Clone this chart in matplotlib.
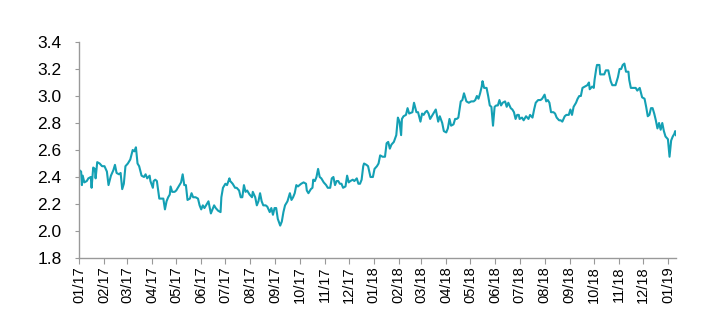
import datetime as dt
import matplotlib
matplotlib.use("Agg")
import matplotlib.pyplot as plt
import matplotlib.dates as mdates

# days after 2017-01-01 and the yield
days = [
    0, 2, 3, 4, 6, 9, 11, 14, 15, 17, 19, 20, 22, 25, 28, 31, 34, 36, 39, 42,
    44, 46, 49, 51, 53, 55, 57, 60, 63, 66, 68, 70, 72, 74, 77, 80, 82, 84, 87, 88,
    91, 92, 94, 96, 99, 101, 104, 106, 108, 110, 112, 113, 115, 118, 120, 123, 126, 128, 130, 132,
    134, 137, 139, 141, 144, 147, 149, 151, 153, 155, 158, 160, 163, 165, 167, 169, 172, 175, 176, 178,
    181, 183, 186, 187, 190, 193, 195, 198, 200, 202, 204, 206, 208, 211, 214, 215, 218, 220, 222, 224,
    226, 228, 231, 233, 236, 238, 240, 242, 244, 246, 249, 251, 253, 255, 258, 261, 263, 265, 267, 269,
    271, 273, 275, 278, 281, 282, 284, 287, 289, 290, 292, 294, 296, 298, 300, 303, 306, 308, 311, 313,
    315, 317, 319, 321, 323, 325, 327, 330, 332, 334, 336, 339, 341, 344, 346, 348, 350, 352,
    353, 356, 358, 361, 364, 366, 369, 371, 373, 376, 379, 381, 383, 385, 387, 390, 393, 395, 397, 399,
    400, 402, 405, 407, 409, 413, 415, 418, 420, 423, 425, 427, 429, 431, 433, 435, 437, 439, 442, 443,
    445, 447, 450, 452, 455, 457, 459, 461, 464, 466, 468, 470, 473, 475, 477, 480, 483, 486, 489, 491,
    493, 495, 497, 499, 500, 502, 505, 507, 509, 511, 513, 515, 517, 519, 521, 523, 525, 528, 530, 532,
    535, 537, 539, 541, 543, 545, 546, 549, 551, 554, 557, 559, 562, 564, 566, 569, 572, 574, 577, 579,
    581, 583, 585, 588, 590, 592, 595, 597, 599, 602, 604, 607, 609, 611, 613, 616, 618, 620, 622, 624,
    627, 630, 632, 633, 636, 638, 639, 641, 642, 645, 646, 648, 651, 653, 656, 659, 661, 663, 665, 668,
    670, 672, 674, 676, 678, 681, 682, 684, 687, 690, 692, 695, 698, 701, 703, 705, 707, 709, 711, 713,
    715, 717, 719, 721, 723, 725, 727, 730, 732, 734, 736, 738, 739, 740,
]
yields = [
    2.45, 2.44, 2.34, 2.41, 2.36, 2.37, 2.39, 2.40, 2.32, 2.47, 2.46, 2.39, 2.51, 2.50, 2.48, 2.48, 2.44, 2.34, 2.41, 2.45,
    2.49, 2.43, 2.42, 2.43, 2.31, 2.35, 2.48, 2.50, 2.53, 2.60, 2.59, 2.62, 2.50, 2.48, 2.41, 2.40, 2.42, 2.39, 2.41, 2.37,
    2.32, 2.37, 2.38, 2.37, 2.24, 2.24, 2.24, 2.16, 2.22, 2.25, 2.27, 2.33, 2.29, 2.29, 2.30, 2.33, 2.36, 2.42, 2.34, 2.34,
    2.23, 2.24, 2.28, 2.25, 2.25, 2.24, 2.19, 2.16, 2.19, 2.17, 2.20, 2.22, 2.13, 2.16, 2.19, 2.17, 2.15, 2.14, 2.25, 2.32,
    2.35, 2.34, 2.39, 2.37, 2.35, 2.32, 2.32, 2.30, 2.25, 2.25, 2.34, 2.29, 2.30, 2.27, 2.25, 2.29, 2.25, 2.19, 2.22, 2.28,
    2.22, 2.19, 2.19, 2.18, 2.14, 2.17, 2.12, 2.17, 2.17, 2.09, 2.04, 2.07, 2.14, 2.19, 2.22, 2.28, 2.23, 2.25, 2.28, 2.34,
    2.33, 2.34, 2.35, 2.36, 2.35, 2.30, 2.28, 2.31, 2.32, 2.38, 2.37, 2.40, 2.46, 2.40, 2.39, 2.36, 2.34, 2.32, 2.32, 2.39,
    2.40, 2.34, 2.37, 2.37, 2.35, 2.35, 2.32, 2.33, 2.41, 2.36, 2.37, 2.38, 2.37, 2.39, 2.35, 2.35, 2.38, 2.48,
    2.50, 2.49, 2.48, 2.40, 2.40, 2.46, 2.48, 2.50, 2.56, 2.55, 2.55, 2.65, 2.66, 2.61, 2.64, 2.66, 2.71, 2.84, 2.81, 2.71,
    2.83, 2.85, 2.86, 2.91, 2.87, 2.88, 2.95, 2.88, 2.88, 2.81, 2.87, 2.86, 2.88, 2.89, 2.87, 2.83, 2.85, 2.87, 2.90, 2.87,
    2.81, 2.85, 2.80, 2.74, 2.73, 2.76, 2.83, 2.78, 2.79, 2.83, 2.83, 2.84, 2.96, 2.97, 3.02, 2.96, 2.95, 2.96, 2.96, 2.97,
    3.00, 2.98, 3.02, 3.07, 3.11, 3.06, 3.06, 3.00, 2.93, 2.92, 2.78, 2.92, 2.93, 2.93, 2.97, 2.93, 2.95, 2.96, 2.92, 2.95,
    2.91, 2.90, 2.88, 2.83, 2.86, 2.86, 2.83, 2.84, 2.82, 2.85, 2.83, 2.86, 2.84, 2.90, 2.95, 2.97, 2.97, 2.98, 3.01, 2.96,
    2.97, 2.95, 2.88, 2.88, 2.87, 2.84, 2.82, 2.82, 2.81, 2.85, 2.86, 2.86, 2.90, 2.86, 2.92, 2.95, 2.98, 3.00, 3.00, 3.06,
    3.07, 3.08, 3.10, 3.05, 3.07, 3.06, 3.12, 3.20, 3.23, 3.23, 3.16, 3.16, 3.16, 3.19, 3.19, 3.11, 3.08, 3.08, 3.08, 3.14,
    3.20, 3.20, 3.23, 3.24, 3.18, 3.18, 3.12, 3.06, 3.06, 3.06, 3.04, 3.06, 2.99, 2.98, 2.92, 2.85, 2.86, 2.91, 2.91, 2.87,
    2.82, 2.76, 2.80, 2.75, 2.80, 2.74, 2.70, 2.68, 2.55, 2.67, 2.70, 2.72, 2.74, 2.71,
]

start = dt.date(2017, 1, 1)
dates = [start + dt.timedelta(days=d) for d in days]

plt.rcParams['font.family'] = ['Liberation Sans', 'DejaVu Sans']

fig = plt.figure(figsize=(7.26, 3.32), dpi=100)
ax = fig.add_axes([0.1095, 0.2229, 0.8216, 0.6506])

ax.plot(dates, yields, color='#14a0b4', linewidth=1.5)

ax.set_ylim(1.8, 3.4)
ax.set_yticks([1.8, 2.0, 2.2, 2.4, 2.6, 2.8, 3.0, 3.2, 3.4])
ax.yaxis.set_major_formatter(plt.FormatStrFormatter('%.1f'))
ax.set_xlim(start, start + dt.timedelta(days=740))
ax.xaxis.set_major_locator(mdates.MonthLocator())
ax.xaxis.set_major_formatter(mdates.DateFormatter('%m/%y'))

for s in ['top', 'right']:
    ax.spines[s].set_visible(False)
for s in ['left', 'bottom']:
    ax.spines[s].set_color('#999999')
    ax.spines[s].set_linewidth(1.0)

ax.tick_params(axis='y', colors='#999999', labelcolor='black', labelsize=12.5,
               length=3, pad=10)
ax.tick_params(axis='x', colors='#999999', labelcolor='black', labelsize=10.5,
               length=4, pad=2, labelrotation=90)

fig.savefig('out.png', dpi=100)
